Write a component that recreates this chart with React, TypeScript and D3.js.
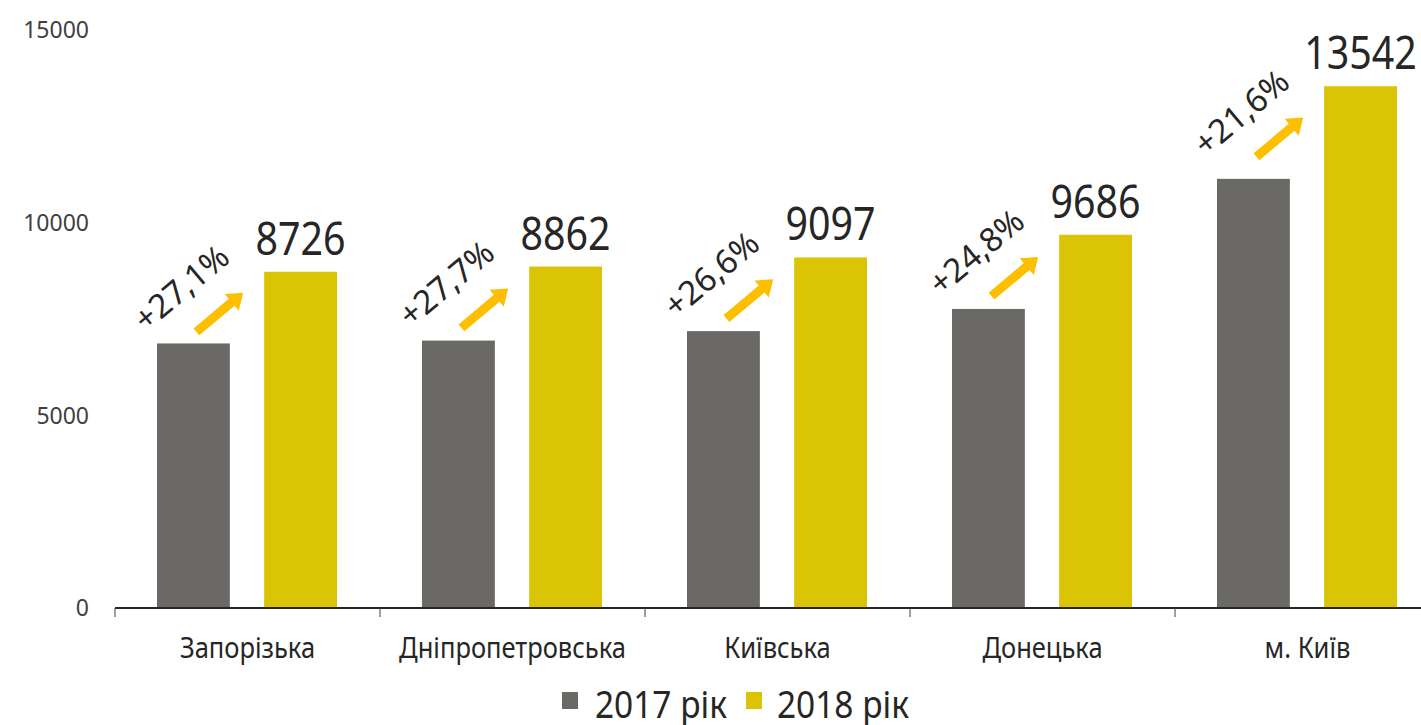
import React from "react";
import * as d3 from "d3";

const regions = ["Запорізька", "Дніпропетровська", "Київська", "Донецька", "м. Київ"];
const values2017 = [6866, 6940, 7186, 7761, 11137];
const values2018 = [8726, 8862, 9097, 9686, 13542];
const growth = ["+27,1%", "+27,7%", "+26,6%", "+24,8%", "+21,6%"];
const yTicks = [0, 5000, 10000, 15000];
const seriesNames = ["2017 рік", "2018 рік"];

const W = 1421;
const H = 725;
const GREY = "#6b6966";
const YELLOW = "#dbc406";
const ARROW = "#fdbf00";
const TEXT = "#262626";
const font = "'Noto Sans', sans-serif";

const Arrow = ({ cx, cy }: { cx: number; cy: number }) => {
  // right-pointing arrow, turned up by 40deg
  const path = "M-30,-4.5 L16,-4.5 L16,-11 L31,0 L16,11 L16,4.5 L-30,4.5 Z";
  return <path d={path} fill={ARROW} transform={`translate(${cx},${cy}) rotate(-40)`} />;
};

export default function App() {
  const x = d3.scaleBand().domain(regions).range([115, 1440]);
  const x1 = d3.scaleBand().domain(["2017", "2018"]).range([42, 222]).paddingInner(0.32);
  const y = d3.scaleLinear().domain([0, 15000]).range([608, 30]);

  return (
    <svg width={W} height={H} style={{ position: "absolute", left: 0, top: 0, background: "#fff" }}>
      {yTicks.map((t) => (
        <text key={t} x={89} y={y(t)} dy="0.36em" textAnchor="end" fontSize={23}
          fontFamily={font} fill="#404040">{t}</text>
      ))}

      {regions.map((r, i) => {
        const x0 = x(r)!;
        const gx = x0 + x1("2017")!;
        const yx = x0 + x1("2018")!;
        const bw = x1.bandwidth();
        const gy = y(values2017[i]);
        const yy = y(values2018[i]);
        const mid = (gy + yy) / 2;
        const label = String(values2018[i]);
        return (
          <g key={r}>
            <rect x={gx} y={gy} width={bw} height={y(0) - gy} fill={GREY} />
            <rect x={yx} y={yy} width={bw} height={y(0) - yy} fill={YELLOW} />
            <text x={yx + bw / 2} y={yy - 17} textAnchor="middle" fontSize={46}
              fontFamily={font} fill={TEXT} textLength={label.length * 22.5} lengthAdjust="spacingAndGlyphs">
              {label}
            </text>
            <Arrow cx={gx + bw / 2 + 26} cy={mid + 5} />
            <text transform={`translate(${gx + bw / 2 - 12},${mid - 20}) rotate(-40)`} textAnchor="middle"
              dy="0.35em" fontSize={33} fontFamily={font} fill={TEXT}>
              {growth[i]}
            </text>
            <text transform={`translate(${x0 + x.bandwidth() / 2},658) scale(0.88,1)`} textAnchor="middle"
              fontSize={29} fontFamily={font} fill={TEXT}>{r}</text>
          </g>
        );
      })}

      <line x1={115} x2={W} y1={y(0)} y2={y(0)} stroke="#262626" strokeWidth={2} />
      {regions.map((r) => (
        <line key={r} x1={x(r)!} x2={x(r)!} y1={y(0)} y2={y(0) + 9} stroke="#404040" strokeWidth={1} />
      ))}

      <g fontFamily={font} fontSize={38} fill={TEXT}>
        <rect x={562} y={692} width={16} height={17} fill={GREY} />
        <text transform="translate(595,718) scale(0.88,1)">{seriesNames[0]}</text>
        <rect x={746} y={692} width={16} height={17} fill={YELLOW} />
        <text transform="translate(777,718) scale(0.88,1)">{seriesNames[1]}</text>
      </g>
    </svg>
  );
}
